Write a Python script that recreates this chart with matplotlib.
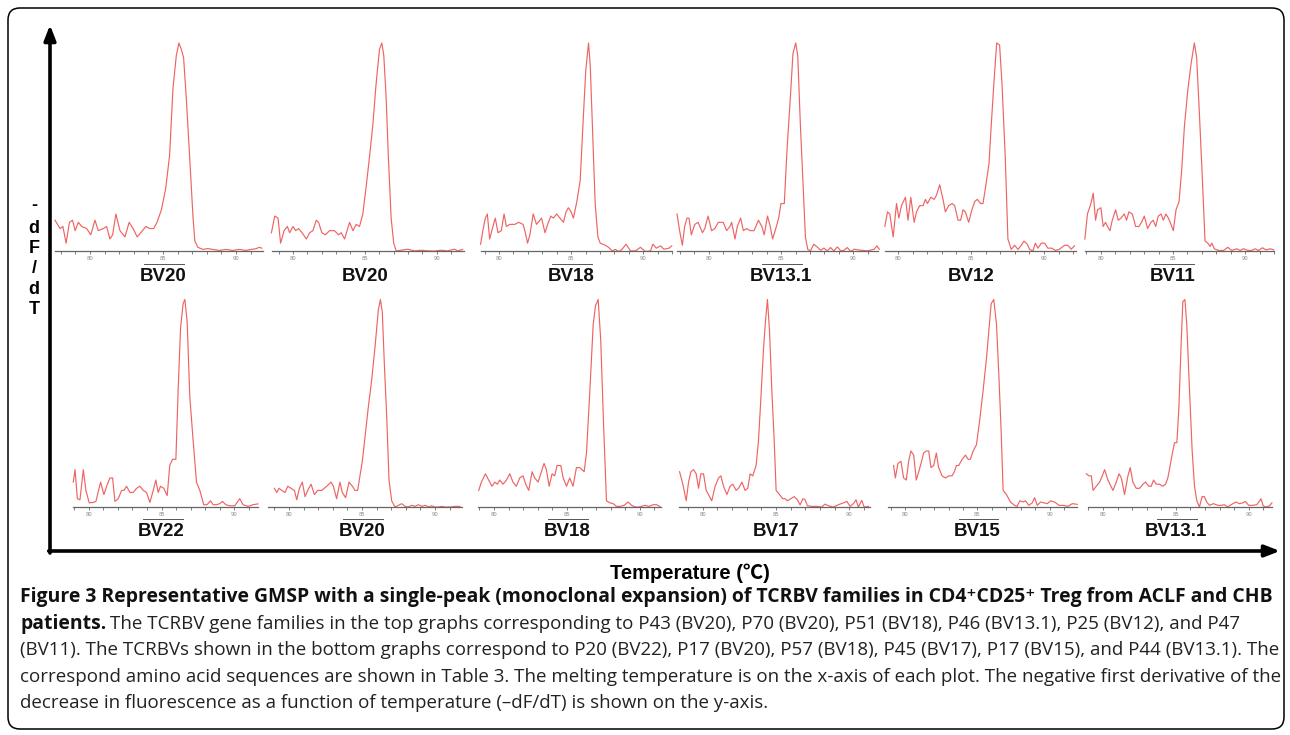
import matplotlib
matplotlib.use("Agg")
import matplotlib.pyplot as plt
from matplotlib.ticker import MultipleLocator
from matplotlib.patches import FancyBboxPatch

# ---------------------------------------------------------------------------
# Data: melting curves (-dF/dT, arbitrary units, peak = 100)
# ---------------------------------------------------------------------------

# top row
t_p43 = [77.6, 77.95, 78.14, 78.36, 78.59, 78.8, 78.98, 79.2, 79.43, 79.77, 80.05, 80.34, 80.57,
         80.91, 81.14, 81.36, 81.55, 81.77, 82.05, 82.39, 82.68, 82.95, 83.23, 83.48, 83.82, 84.09,
         84.36, 84.59, 84.89, 85.18, 85.45, 85.68, 85.91, 86.09, 86.25, 86.41, 86.59, 86.82, 87.05,
         87.18, 87.39, 87.73, 88.07, 88.41, 88.86, 89.32, 89.77, 90.23, 90.68, 91.02, 91.36, 91.59, 91.77]
y_p43 = [15, 11, 12, 4, 14, 15, 10, 14, 12, 11, 8, 15, 10,
         11, 12, 6, 8, 18, 10, 7, 14, 11, 7, 9, 12, 11,
         11, 14, 20, 30, 46, 78, 94, 100, 97, 93, 74, 46, 17,
         5, 2, 1, 1.4, 1, 0.5, 1, 0.5, 1, 0.5, 1, 1.3, 2, 1.6]

t_p70 = [78.5, 78.73, 78.96, 79.14, 79.38, 79.61, 79.77, 80.0, 80.19, 80.39, 80.63, 80.93, 81.16,
         81.39, 81.62, 81.78, 82.01, 82.25, 82.55, 82.89, 83.17, 83.36, 83.59, 83.94, 84.17, 84.4,
         84.63, 84.86, 85.09, 85.32, 85.56, 85.79, 86.02, 86.18, 86.32, 86.48, 86.64, 86.83, 87.01,
         87.18, 87.52, 87.99, 88.45, 88.91, 89.38, 89.84, 90.3, 90.76, 91.23, 91.46, 91.81]
y_p70 = [9, 17, 16, 4, 10, 12, 9, 12, 10, 11, 9, 6, 9,
         10, 15, 14, 9, 8, 10, 10, 8, 9, 6, 14, 10, 13,
         12, 18, 31, 45, 61, 81, 97, 100, 94, 74, 45, 16, 4,
         0.3, 0.6, 1.1, 0.3, 0.6, 0.3, 0.2, 0.6, 0.3, 1.1, 0.3, 1]

t_p51 = [78.72, 78.88, 79.05, 79.19, 79.35, 79.58, 79.74, 79.93, 80.16, 80.35, 80.51, 80.74, 81.09,
         81.37, 81.67, 81.79, 81.98, 82.14, 82.37, 82.6, 82.95, 83.19, 83.42, 83.6, 83.77, 84.0,
         84.23, 84.47, 84.65, 84.81, 85.0, 85.16, 85.4, 85.63, 85.86, 86.02, 86.21, 86.33, 86.49,
         86.67, 86.86, 87.02, 87.37, 87.6, 87.84, 88.07, 88.3, 88.53, 88.81, 89.12, 89.47, 89.81,
         90.16, 90.51, 90.67, 90.91, 91.21, 91.44, 91.79, 91.98]
y_p51 = [3.5, 10, 16, 18, 6, 12, 16, 9, 10, 18, 12, 13, 13,
         14, 13, 10, 4, 8, 18, 13, 16, 9, 14, 17, 16, 18,
         16, 14, 19, 21, 19, 16, 24, 34, 66, 87, 100, 89, 58,
         23, 7, 4, 3, 2, 0.3, 1, 0, 1, 3.5, 0.3, 0.3, 2,
         0, 0.3, 3.5, 1.6, 2.7, 1.1, 1.6, 2.7]

t_p46 = [77.8, 77.98, 78.17, 78.33, 78.49, 78.63, 78.79, 79.03, 79.26, 79.56, 79.72, 79.95, 80.19,
         80.42, 80.65, 81.0, 81.23, 81.46, 81.58, 81.81, 81.97, 82.2, 82.39, 82.62, 82.85, 83.13,
         83.43, 83.67, 83.83, 84.06, 84.25, 84.41, 84.59, 84.83, 84.99, 85.22, 85.41, 85.64, 85.82,
         86.01, 86.15, 86.33, 86.52, 86.68, 86.84, 87.03, 87.26, 87.49, 87.73, 87.96, 88.19, 88.42,
         88.65, 88.89, 89.12, 89.35, 89.58, 89.81, 90.05, 90.51, 90.97, 91.44, 91.62, 91.79]
y_p46 = [18, 10, 3, 12, 16, 16, 8, 13, 14, 9, 11, 17, 10,
         11, 14, 14, 10, 12, 14, 6, 12, 16, 10, 11, 10, 10,
         15, 12, 8, 17, 12, 6, 10, 16, 23, 23, 49, 74, 95,
         100, 94, 61, 32, 7, 1, 0.3, 3.5, 2.2, 0.6, 1.6, 0.3, 1.9,
         0.3, 2.2, 0.3, 0.6, 1.9, 0, 1.1, 0.6, 0.3, 1.1, 2.7, 1.1]

t_p25 = [79.09, 79.27, 79.43, 79.66, 79.89, 80.05, 80.23, 80.5, 80.68, 80.87, 81.1, 81.26, 81.48,
         81.71, 81.87, 82.01, 82.24, 82.47, 82.63, 82.85, 83.08, 83.24, 83.47, 83.7, 83.88, 84.11,
         84.29, 84.45, 84.61, 84.84, 85.02, 85.25, 85.43, 85.66, 85.82, 86.0, 86.23, 86.39, 86.58,
         86.76, 86.96, 87.12, 87.35, 87.53, 87.76, 87.99, 88.22, 88.45, 88.63, 88.86, 89.02, 89.25,
         89.41, 89.59, 89.82, 90.05, 90.27, 90.55, 90.78, 91.07, 91.42, 91.64, 91.87, 92.1]
y_p25 = [12, 19, 18, 7, 23, 16, 22, 26, 15, 26, 14, 19, 22,
         22, 25, 23, 26, 25, 27, 32, 25, 19, 22, 23, 22, 15,
         15, 20, 19, 14, 19, 24, 25, 23, 23, 31, 42, 61, 82,
         100, 99, 81, 45, 6, 1, 3, 1, 3, 5, 3.5, 1, 0.3,
         4, 1.6, 4, 4, 1.6, 1.6, 0.5, 1.1, 3, 3, 1.1, 2.7]

t_p47 = [78.89, 79.07, 79.31, 79.47, 79.63, 79.77, 80.0, 80.16, 80.32, 80.46, 80.63, 80.79, 81.02,
         81.2, 81.39, 81.62, 81.78, 81.94, 82.18, 82.41, 82.64, 82.82, 83.01, 83.24, 83.47, 83.63,
         83.8, 83.98, 84.17, 84.33, 84.51, 84.68, 84.86, 85.02, 85.21, 85.42, 85.6, 85.79, 86.02,
         86.25, 86.48, 86.64, 86.83, 87.04, 87.22, 87.41, 87.57, 87.69, 87.87, 88.15, 88.5, 88.8,
         89.07, 89.42, 89.65, 89.88, 90.19, 90.46, 90.69, 90.93, 91.2, 91.44, 91.74, 91.97]
y_p47 = [6, 18, 23, 28, 15, 20, 21, 12, 14, 12, 10, 15, 20,
         15, 16, 18, 15, 19, 18, 12, 12, 14, 17, 11, 14, 15,
         12, 17, 18, 15, 18, 16, 13, 10, 20, 24, 39, 60, 77,
         90, 100, 93, 66, 34, 5, 4, 2.4, 4, 1.3, 0.5, 0.5, 2,
         0.5, 1.3, 0.5, 1.3, 0.5, 0.5, 1.3, 0.5, 1.8, 0.8, 1.3, 0.8]

# bottom row
t_p20 = [78.92, 79.04, 79.2, 79.38, 79.61, 79.79, 80.02, 80.3, 80.48, 80.8, 81.03, 81.22, 81.44,
         81.63, 81.79, 82.02, 82.25, 82.41, 82.59, 82.82, 83.05, 83.28, 83.51, 83.74, 83.97, 84.2,
         84.43, 84.61, 84.77, 84.93, 85.16, 85.39, 85.57, 85.76, 85.99, 86.15, 86.31, 86.49, 86.61,
         86.77, 86.95, 87.18, 87.41, 87.64, 87.91, 88.14, 88.37, 88.56, 88.78, 89.01, 89.2, 89.43,
         89.7, 90.05, 90.39, 90.62, 90.96, 91.31, 91.65]
y_p20 = [12, 18, 4, 3.5, 18, 8, 2, 2.2, 2.7, 12, 6, 10, 14,
         14, 2.7, 4, 8, 8, 10, 7, 7, 9, 10, 8, 7, 2.2,
         8, 13, 7, 10, 9, 5.5, 20, 23, 23, 57, 86, 98, 100,
         89, 53, 32, 12, 8, 1.1, 1.1, 3, 1.1, 1.1, 1.6, 2.7, 1.1,
         0.6, 0.6, 4, 1.1, 0.3, 1.1, 1.5]

t_p17a = [79.0, 79.16, 79.32, 79.5, 79.73, 79.91, 80.14, 80.37, 80.53, 80.71, 80.91, 81.1, 81.28,
          81.51, 81.74, 81.96, 82.24, 82.58, 82.88, 83.04, 83.26, 83.49, 83.65, 83.88, 84.11, 84.34,
          84.52, 84.7, 84.86, 85.02, 85.21, 85.43, 85.66, 85.89, 86.12, 86.26, 86.39, 86.53, 86.69,
          86.85, 87.03, 87.26, 87.49, 87.72, 87.95, 88.17, 88.4, 88.63, 88.86, 89.09, 89.32, 89.59,
          89.77, 90.0, 90.23, 90.46, 90.68, 91.03, 91.37, 91.71]
y_p17a = [9, 7, 9, 8, 7, 10, 9, 8, 3.5, 9, 12, 5, 8,
          11, 6, 8, 8, 10, 12, 10, 4, 12, 7, 4.5, 12, 10,
          8, 8, 15, 22, 34, 48, 61, 77, 95, 100, 94, 69, 44,
          13, 3, 0, 0.8, 1.6, 0.3, 0, 0.8, 0.3, 1.1, 0.3, 0.8, 0,
          0.6, 0, 0, 0.3, 0, 0, 0.3, 0.3]

t_p57 = [78.95, 79.13, 79.41, 79.63, 79.86, 80.05, 80.23, 80.39, 80.62, 80.85, 81.08, 81.3, 81.53,
         81.76, 81.99, 82.17, 82.38, 82.61, 82.79, 83.02, 83.25, 83.43, 83.59, 83.78, 83.98, 84.16,
         84.32, 84.58, 84.74, 84.97, 85.19, 85.42, 85.65, 85.88, 86.18, 86.34, 86.57, 86.8, 86.96,
         87.14, 87.32, 87.51, 87.71, 87.94, 88.17, 88.4, 88.63, 88.92, 89.2, 89.43, 89.7, 90.0,
         90.34, 90.62, 90.92, 91.14, 91.37]
y_p57 = [8, 12, 16, 13, 10, 12, 11, 13, 11, 13, 16, 12, 10,
         14, 15, 11, 8, 17, 14, 12, 17, 21, 18, 10, 16, 15,
         20, 20, 14, 10, 14, 10, 19, 19, 17, 26, 56, 88, 97,
         100, 80, 40, 3, 2, 1.6, 0.3, 0.3, 0.8, 2.4, 0.8, 0, 0,
         0.8, 0.3, 1.1, 1.1, 0.3]

t_p45 = [78.44, 78.66, 78.89, 79.05, 79.21, 79.39, 79.57, 79.73, 79.89, 80.07, 80.25, 80.48, 80.63,
         80.86, 81.09, 81.25, 81.43, 81.66, 81.88, 82.06, 82.29, 82.45, 82.68, 82.9, 83.08, 83.24,
         83.42, 83.65, 83.81, 83.97, 84.15, 84.29, 84.42, 84.56, 84.72, 84.88, 85.01, 85.24, 85.46,
         85.62, 85.78, 86.01, 86.24, 86.46, 86.64, 86.83, 86.98, 87.14, 87.44, 87.78, 88.12, 88.34,
         88.57, 88.91, 89.25, 89.59, 89.82, 90.05, 90.27, 90.45, 90.61, 90.84, 91.0, 91.29]
y_p45 = [17, 11, 3, 12, 17, 18, 16, 9, 16, 16, 8, 5, 3,
         10, 14, 15, 10, 6, 10, 11, 8, 9, 12, 8, 9, 16,
         15, 20, 32, 52, 76, 90, 100, 85, 56, 32, 8, 6, 4,
         4, 3, 4, 5, 3.5, 1, 4, 3.5, 0.6, 0.3, 0.3, 0, 1.4,
         0.6, 0, 1.1, 2, 2.7, 0.3, 1.6, 3.5, 0, 3.2, 0, 0.3]

t_p17b = [79.19, 79.31, 79.49, 79.7, 79.88, 80.07, 80.23, 80.39, 80.58, 80.76, 80.93, 81.09, 81.27,
          81.46, 81.62, 81.78, 81.97, 82.15, 82.31, 82.55, 82.78, 83.01, 83.24, 83.4, 83.54, 83.7,
          83.94, 84.17, 84.35, 84.51, 84.7, 84.93, 85.16, 85.39, 85.63, 85.79, 85.95, 86.13, 86.32,
          86.48, 86.64, 86.78, 87.01, 87.29, 87.57, 87.75, 87.94, 88.17, 88.33, 88.56, 88.8, 88.96,
          89.14, 89.38, 89.61, 89.84, 90.07, 90.35, 90.65, 90.95, 91.27, 91.57, 91.92]
y_p17b = [20, 14, 21, 22, 14, 13, 22, 27, 25, 13, 17, 21, 26,
          27, 27, 19, 20, 26, 19, 15, 14, 15, 15, 17, 20, 20,
          23, 25, 23, 23, 27, 30, 42, 56, 72, 85, 98, 100, 88,
          64, 37, 8, 6, 2.4, 0.8, 0.3, 3, 2.4, 3, 0.8, 2, 4.5,
          0.8, 2.4, 2, 1.6, 3, 2.4, 0.8, 0.8, 0.3, 1.6, 1.3]

t_p44 = [78.86, 79.04, 79.2, 79.32, 79.54, 79.77, 79.95, 80.11, 80.34, 80.68, 80.91, 81.1, 81.26,
         81.48, 81.71, 81.87, 82.05, 82.28, 82.51, 82.74, 82.92, 83.15, 83.31, 83.47, 83.65, 83.88,
         84.11, 84.29, 84.45, 84.61, 84.79, 84.91, 85.07, 85.21, 85.37, 85.48, 85.62, 85.75, 85.94,
         86.12, 86.28, 86.44, 86.62, 86.8, 86.96, 87.12, 87.31, 87.58, 87.88, 88.11, 88.33, 88.56,
         88.79, 89.13, 89.36, 89.59, 89.77, 90.0, 90.27, 90.55, 90.73, 90.84, 91.0, 91.19, 91.42, 91.6]
y_p44 = [16, 15, 15, 8, 10, 12, 15, 18, 13, 8, 12, 16, 14,
         6, 15, 19, 12, 9, 9, 11, 12, 10, 10, 13, 11, 11,
         10, 11, 14, 20, 27, 31, 31, 48, 80, 99, 100, 88, 56,
         27, 10, 3, 0, 5, 5, 2.4, 0.8, 1.6, 0.8, 0.8, 1.1, 0,
         1.1, 2.4, 1.6, 2, 2.7, 0.8, 0.8, 1.1, 2.7, 4, 0.5, 0, 0.5, 2]

labels = ["BV20", "BV20", "BV18", "BV13.1", "BV12", "BV11",
          "BV22", "BV20", "BV18", "BV17", "BV15", "BV13.1"]
temps = [t_p43, t_p70, t_p51, t_p46, t_p25, t_p47,
         t_p20, t_p17a, t_p57, t_p45, t_p17b, t_p44]
values = [y_p43, y_p70, y_p51, y_p46, y_p25, y_p47,
          y_p20, y_p17a, y_p57, y_p45, y_p17b, y_p44]
has_bar = [True, False, True, True, False, True,
           True, True, True, False, True, True]

caption_bold = ("Figure 3 Representative GMSP with a single-peak (monoclonal expansion) of TCRBV "
                "families in CD4⁺CD25⁺ Treg from ACLF and CHB")
caption_lines = [
    "The TCRBV gene families in the top graphs corresponding to P43 (BV20), "
    "P70 (BV20), P51 (BV18), P46 (BV13.1), P25 (BV12), and P47",
    "(BV11). The TCRBVs shown in the bottom graphs correspond to P20 (BV22), P17 (BV20), "
    "P57 (BV18), P45 (BV17), P17 (BV15), and P44 (BV13.1). The",
    "correspond amino acid sequences are shown in Table 3. The melting temperature is on the "
    "x-axis of each plot. The negative first derivative of the",
    "decrease in fluorescence as a function of temperature (–dF/dT) is shown on the y-axis.",
]

# ---------------------------------------------------------------------------
# Layout (pixels of the 1290x735 canvas)
# ---------------------------------------------------------------------------

W, H = 1290, 735
# (left px, right px, xmin, xmax)
boxes = [(55, 263, 77.6, 91.85), (272, 464, 78.54, 91.9), (481, 672, 78.75, 92.0),
         (677, 878, 77.8, 91.7), (885, 1076, 79.1, 92.2), (1085, 1274, 78.9, 92.0),
         (73, 258, 78.9, 91.65), (268, 462, 78.56, 91.85), (478, 661, 78.9, 91.45),
         (679, 870, 78.4, 91.4), (888, 1077, 78.8, 91.9), (1088, 1272, 78.97, 91.6)]
rows = [(251.5, 43), (507, 299.5)]   # baseline px, peak px

RED = "#ee6464"
AXC = "#666666"

fig = plt.figure(figsize=(W / 100, H / 100), dpi=100)
fig.patch.set_facecolor("white")

bg = fig.add_axes([0, 0, 1, 1])
bg.set_xlim(0, W)
bg.set_ylim(H, 0)
bg.axis("off")

for i, (lab, t, v) in enumerate(zip(labels, temps, values)):
    L, R, x0, x1 = boxes[i]
    base, peak = rows[i // 6]
    ax = fig.add_axes([L / W, 1 - base / H, (R - L) / W, (base - peak) / H])
    ax.patch.set_alpha(0)
    ax.plot(t, v, color=RED, lw=0.85, clip_on=False)
    ax.set_xlim(x0, x1)
    ax.set_ylim(0, 100)
    for s in ("left", "right", "top"):
        ax.spines[s].set_visible(False)
    ax.spines["bottom"].set_color(AXC)
    ax.spines["bottom"].set_linewidth(0.9)
    ax.set_yticks([])
    ax.set_xticks([80, 85, 90])
    ax.xaxis.set_minor_locator(MultipleLocator(1))
    ax.tick_params(axis="x", which="both", direction="out", length=2.2, width=0.6,
                   color=AXC, labelsize=3.8, labelcolor="#888888", pad=1.2)
    if has_bar[i]:
        ax.plot([83.7, 86.45], [-6.0, -6.0], color="#555555", lw=0.7, clip_on=False)
    # label baseline ~29 px under the axis
    ax.annotate(lab, xy=(85, 0), xytext=(0, -21), textcoords="offset points",
                ha="center", va="baseline", fontsize=13.5, fontweight="bold",
                family="Liberation Sans", color="#111111")

# big axes arrows
bg.annotate("", xy=(50, 25), xytext=(50, 553),
            arrowprops=dict(arrowstyle="-|>,head_length=0.9,head_width=0.35",
                            lw=2.6, color="black", shrinkA=0, shrinkB=0))
bg.annotate("", xy=(1280, 551), xytext=(48.7, 551),
            arrowprops=dict(arrowstyle="-|>,head_length=0.9,head_width=0.35",
                            lw=2.6, color="black", shrinkA=0, shrinkB=0))

for ch, yy in zip(["-", "d", "F", "/", "d", "T"], [205, 228, 248, 268, 289, 309]):
    bg.text(34, yy, ch, ha="center", va="center", fontsize=13, fontweight="bold",
            family="Liberation Sans")

bg.text(690, 573, "Temperature (℃)", ha="center", va="center", fontsize=14.5,
        fontweight="bold", family=["Liberation Sans", "Noto Sans CJK SC"])

# frame
bg.add_patch(FancyBboxPatch((8, 8), 1276, 721, boxstyle="round,pad=0,rounding_size=12",
                            fill=False, ec="black", lw=1.1))

# caption: sizes fitted to the widths of the printed lines
CAPF = ["Open Sans", "DejaVu Sans"]
fig.canvas.draw()
rend = fig.canvas.get_renderer()


def fitted(txt, weight, target):
    probe = bg.text(0, 0, txt, fontsize=12, fontweight=weight, family=CAPF)
    w = probe.get_window_extent(rend).width
    probe.remove()
    return 12 * target / w


bsize = fitted(caption_bold, "bold", 1252)
rsize = fitted(caption_lines[2], "normal", 1258)

bg.text(20, 597, caption_bold, ha="left", va="center", fontsize=bsize, fontweight="bold",
        family=CAPF, color="#111111")
p = bg.text(20, 624, "patients.", ha="left", va="center", fontsize=bsize, fontweight="bold",
            family=CAPF, color="#111111")
bb = p.get_window_extent(rend)
bg.text(bb.x1 + 4, 624, caption_lines[0], ha="left", va="center",
        fontsize=rsize, family=CAPF, color="#222222")
for line, yy in zip(caption_lines[1:], [650, 677, 703]):
    bg.text(20, yy, line, ha="left", va="center", fontsize=rsize, family=CAPF, color="#222222")

fig.savefig("out.png", dpi=100)
